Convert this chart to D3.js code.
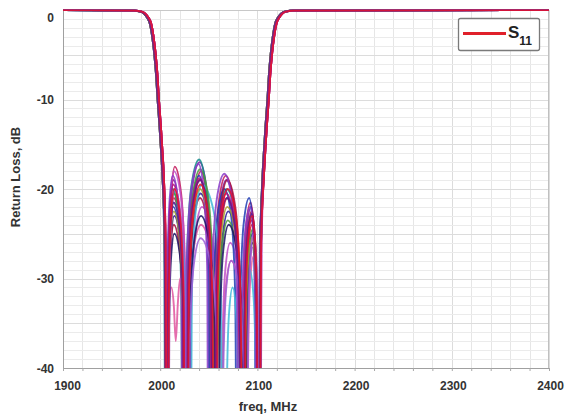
<!DOCTYPE html>
<html><head><meta charset="utf-8">
<script src="https://cdn.jsdelivr.net/npm/d3@7"></script>
<style>html,body{margin:0;padding:0;background:#fff;} svg{display:block;}</style>
</head><body><svg id="c" width="568" height="415"></svg>
<script>
// ---------- data ----------
const xTicks = [1900, 2000, 2100, 2200, 2300, 2400];
const yTicks = [0, -10, -20, -30, -40];
const xDomain = [1900, 2400];
const yDomain = [-40, 0];
const xLabel = "freq, MHz";
const yLabel = "Return Loss, dB";
const legendName = ["S", "11"];

// shared skirt shapes (three slight variants), [MHz, dB]
const leftSkirts = [
  [[1900,0],[1971,-0.05],[1978.3,-0.15],[1983.3,-0.4],[1986.8,-0.9],[1989.3,-1.5],[1991.8,-3],[1993.8,-4.8],[1995.8,-7.3],[1997.3,-10],[1999.3,-13],[2000.8,-15.6],[2002.3,-18.5]],
  [[1900,0],[1972,-0.05],[1979,-0.15],[1984,-0.4],[1987.5,-0.9],[1990,-1.5],[1992.5,-3],[1994.5,-4.8],[1996.5,-7.3],[1998,-10],[2000,-13],[2001.5,-15.6],[2003,-18.5]],
  [[1900,0],[1972.7,-0.05],[1979.7,-0.15],[1984.7,-0.4],[1988.2,-0.9],[1990.7,-1.5],[1993.2,-3],[1995.2,-4.8],[1997.2,-7.3],[1998.7,-10],[2000.7,-13],[2002.2,-15.6],[2003.7,-18.5]]
];
const rightSkirts = [
  [[2105.3,-18.5],[2106.8,-15.6],[2108.3,-13],[2110.3,-10],[2111.8,-7.3],[2113.8,-4.8],[2115.8,-3],[2118.3,-1.5],[2120.8,-0.9],[2124.3,-0.4],[2129.3,-0.15],[2136.3,-0.05],[2400,0]],
  [[2106,-18.5],[2107.5,-15.6],[2109,-13],[2111,-10],[2112.5,-7.3],[2114.5,-4.8],[2116.5,-3],[2119,-1.5],[2121.5,-0.9],[2125,-0.4],[2130,-0.15],[2137,-0.05],[2400,0]],
  [[2106.7,-18.5],[2108.2,-15.6],[2109.7,-13],[2111.7,-10],[2113.2,-7.3],[2115.2,-4.8],[2117.2,-3],[2119.7,-1.5],[2122.2,-0.9],[2125.7,-0.4],[2130.7,-0.15],[2137.7,-0.05],[2400,0]]
];

const traceColors = ["#d7142e","#7b1fa2","#2a1b9a","#c2185b","#138a8a","#c04fc8","#1e3cb4","#a3123f","#e0559f",
                     "#3fb7d8","#4a9a3a","#8a3cc8","#1b1464","#a8a030","#b0107e","#9c5fd6","#5e1a8c","#e8102a"];
const traceSkirt = [2,1,0,1,0,2,1,2,0,1,0,2,1,0,2,1,0,2];

// passband points per trace, flat [MHz, dB, MHz, dB, ...]
const passbands = [
 [2005.6,-26,2007.5,-80,2008.8,-33,2010.75,-24,2014,-21,2020,-24,2023.6,-33,2026,-80,2029,-31,2033.5,-22,2041,-19,2049,-22,2053.8,-31,2057,-80,2059.4,-33,2063,-24,2069,-21,2077.5,-24,2082.6,-33,2086,-80,2087.7,-36,2090.25,-27,2094.5,-24,2097.75,-27,2099.7,-36,2101,-80,2103.85,-26],
 [2004.75,-26,2006.5,-80,2007.9,-31,2010,-22,2013.5,-19,2019.25,-22,2022.7,-31,2025,-80,2028.1,-29,2032.75,-20,2040.5,-17,2047.75,-20,2052.1,-29,2055,-80,2057.6,-31,2061.5,-22,2068,-19,2076,-22,2080.8,-31,2084,-80,2085.9,-34,2088.75,-25,2093.5,-22,2096.75,-25,2098.7,-34,2100,-80,2103,-26],
 [2004.65,-26,2007,-80,2008.5,-35,2010.75,-26,2014.5,-23,2020.75,-26,2024.5,-35,2027,-80,2029.9,-32.5,2034.25,-23.5,2041.5,-20.5,2049.75,-23.5,2054.7,-32.5,2058,-80,2060.4,-34.5,2064,-25.5,2070,-22.5,2078.5,-25.5,2083.6,-34.5,2087,-80,2088.6,-37,2091,-28,2095,-25,2098.25,-28,2100.2,-37,2101.5,-80,2103.4,-26],
 [2005.5,-26,2008,-80,2009.4,-29.5,2011.5,-20.5,2015,-17.5,2021.5,-20.5,2025.4,-29.5,2028,-80,2030.8,-30,2035,-21,2042,-18,2047.5,-21,2050.8,-30,2053,-80,2055.9,-30.5,2060.25,-21.5,2067.5,-18.5,2075.25,-21.5,2079.9,-30.5,2083,-80,2085,-33.5,2088,-24.5,2093,-21.5,2096.25,-24.5,2098.2,-33.5,2099.5,-80,2102.75,-26],
 [2004.15,-26,2006,-80,2007.4,-32,2009.5,-23,2013,-20,2018.5,-23,2021.8,-32,2024,-80,2027.2,-28.7,2032,-19.7,2040,-16.7,2047,-19.7,2051.2,-28.7,2054,-80,2056.9,-32,2061.25,-23,2068.5,-20,2076.75,-23,2081.7,-32,2085,-80,2086.8,-35,2089.5,-26,2094,-23,2097.25,-26,2099.2,-35,2100.5,-80,2102.9,-26],
 [2005.6,-26,2007.5,-80,2008.8,-30,2010.75,-21,2014,-18,2021.5,-21,2026,-30,2029,-80,2031.8,-34,2036,-25,2043,-22,2052.5,-25,2058.2,-34,2062,-80,2064,-38,2067,-29,2072,-26,2080,-29,2084.8,-38,2088,-80,2089.5,-38.5,2091.75,-29.5,2095.5,-26.5,2098.75,-29.5,2100.7,-38.5,2102,-80,2104.35,-26],
 [2004.75,-26,2006.5,-80,2007.9,-34,2010,-25,2013.5,-22,2019.5,-25,2023.1,-34,2025.5,-80,2028.4,-30.5,2032.75,-21.5,2040,-18.5,2046,-21.5,2049.6,-30.5,2052,-80,2054.8,-32,2059,-23,2066,-20,2073,-23,2077.2,-32,2080,-80,2082.3,-33,2085.75,-24,2091.5,-21,2095.25,-24,2097.5,-33,2099,-80,2102.5,-26],
 [2005.35,-26,2007,-80,2008.4,-36,2010.5,-27,2014,-24,2020.25,-27,2024,-36,2026.5,-80,2029.4,-33,2033.75,-24,2041,-21,2048.5,-24,2053,-33,2056,-80,2058.6,-31,2062.5,-22,2069,-19,2077.25,-22,2082.2,-31,2085.5,-80,2087.2,-34.5,2089.75,-25.5,2094,-22.5,2097.5,-25.5,2099.6,-34.5,2101,-80,2103.85,-26],
 [2004.4,-26,2006.5,-80,2008,-36,2009.5,-32,2011.5,-31,2014,-33,2016,-37,2018.3,-32.5,2020.5,-30,2023,-33,2024.6,-38,2026,-80,2029.2,-36,2034,-27,2042,-24,2052,-27,2058,-36,2062,-80,2064.2,-40,2067.5,-31,2073,-28,2081,-31,2085.8,-40,2089,-80,2090.4,-39.5,2092.5,-30.5,2096,-27.5,2099.25,-30.5,2101.2,-39.5,2102.5,-80,2103.9,-26],
 [2004.5,-26,2006,-80,2007.4,-33.5,2009.5,-24.5,2013,-21.5,2021.5,-24.5,2026.6,-33.5,2030,-80,2032.6,-31.5,2036.5,-22.5,2043,-19.5,2055,-22.5,2062.2,-31.5,2067,-80,2068.5,-43,2070.75,-34,2074.5,-31,2078.25,-34,2080.5,-43,2082,-80,2084,-41,2087,-32,2092,-29,2096,-32,2098.4,-41,2100,-80,2103,-26],
 [2004.65,-26,2007,-80,2008.4,-32.5,2010.5,-23.5,2014,-20.5,2020,-23.5,2023.6,-32.5,2026,-80,2029,-29.8,2033.5,-20.8,2041,-17.8,2049.25,-20.8,2054.2,-29.8,2057.5,-80,2059.9,-35.5,2063.5,-26.5,2069.5,-23.5,2078.25,-26.5,2083.5,-35.5,2087,-80,2088.6,-36.5,2091,-27.5,2095,-24.5,2098.25,-27.5,2100.2,-36.5,2101.5,-80,2103.4,-26],
 [2004.85,-26,2006,-80,2007.4,-30.5,2009.5,-21.5,2013,-18.5,2018.5,-21.5,2021.8,-30.5,2024,-80,2027.1,-29.2,2031.75,-20.2,2039.5,-17.2,2044.75,-20.2,2048.4,-29.2,2050,-80,2053.2,-30.3,2058,-21.3,2066,-18.3,2074,-21.3,2078.8,-30.3,2082,-80,2084.1,-34,2087.25,-25,2092.5,-22,2096,-25,2098.1,-34,2099.5,-80,2103.1,-26],
 [2005.25,-26,2007.5,-80,2008.9,-37,2011,-28,2014.5,-25,2021,-28,2024.9,-37,2027.5,-80,2030.4,-35,2034.75,-26,2042,-23,2050.5,-26,2055.6,-35,2059,-80,2061.3,-36,2064.75,-27,2070.5,-24,2079,-27,2084.1,-36,2087.5,-80,2089,-38,2091.25,-29,2095,-26,2098.25,-29,2100.2,-38,2101.5,-80,2103.75,-26],
 [2004.65,-26,2007,-80,2008.4,-34.5,2010.5,-25.5,2014,-22.5,2020,-25.5,2023.6,-34.5,2026,-80,2029,-32,2033.5,-23,2041,-20,2048.75,-23,2053.4,-32,2056.5,-80,2059,-34,2062.75,-25,2069,-22,2077.5,-25,2082.6,-34,2086,-80,2087.7,-37.5,2090.25,-28.5,2094.5,-25.5,2097.75,-28.5,2099.7,-37.5,2101,-80,2103.15,-26],
 [2005.1,-26,2006.5,-80,2007.9,-31.5,2010,-22.5,2013.5,-19.5,2019.5,-22.5,2023.1,-31.5,2025.5,-80,2028.5,-30.8,2033,-21.8,2040.5,-18.8,2047.5,-21.8,2051.7,-30.8,2054.5,-80,2057.2,-32.5,2061.25,-23.5,2068,-20.5,2076.25,-23.5,2081.2,-32.5,2084.5,-80,2086.4,-35.5,2089.25,-26.5,2094,-23.5,2097.25,-26.5,2099.2,-35.5,2100.5,-80,2103.6,-26],
 [2005.5,-26,2008,-80,2009.4,-32,2011.5,-23,2015,-20,2021.25,-23,2025,-32,2027.5,-80,2030.3,-37.5,2034.5,-28.5,2041.5,-25.5,2052.25,-28.5,2058.7,-37.5,2063,-80,2065,-40,2068,-31,2073,-28,2081,-31,2085.8,-40,2089,-80,2090.4,-37,2092.5,-28,2096,-25,2099,-28,2100.8,-37,2102,-80,2104,-26],
 [2004.65,-26,2007,-80,2008.4,-33.5,2010.5,-24.5,2014,-21.5,2020,-24.5,2023.6,-33.5,2026,-80,2029,-31,2033.5,-22,2041,-19,2048.25,-22,2052.6,-31,2055.5,-80,2058.1,-33,2062,-24,2068.5,-21,2076.75,-24,2081.7,-33,2085,-80,2086.8,-34.8,2089.5,-25.8,2094,-22.8,2097.4,-25.8,2099.4,-34.8,2100.8,-80,2103.05,-26],
 [2005.6,-26,2007.5,-80,2008.9,-32,2011,-23,2014.5,-20,2020.5,-23,2024.1,-32,2026.5,-80,2029.5,-31.5,2034,-22.5,2041.5,-19.5,2049,-22.5,2053.5,-31.5,2056.5,-80,2059.1,-32,2063,-23,2069.5,-20,2077.75,-23,2082.7,-32,2086,-80,2087.7,-35,2090.25,-26,2094.5,-23,2097.75,-26,2099.7,-35,2101,-80,2103.85,-26]
];

// ---------- layout ----------
const W = 568, H = 415;
const m = {left: 63, right: 549, top: 10, bottom: 368};
const svg = d3.select("#c");
svg.append("rect").attr("width", W).attr("height", H).attr("fill", "#fff");

const x = d3.scaleLinear().domain(xDomain).range([m.left, m.right]);
const y = d3.scaleLinear().domain(yDomain).range([m.bottom, m.top]);

const font = "'Liberation Sans', Arial, sans-serif";

// grid
const g = svg.append("g");
const xGrid = d3.range(xDomain[0], xDomain[1] + 1, 20);
const yGrid = d3.range(yDomain[0], yDomain[1] + 1, 1);
g.selectAll(".vg").data(xGrid).enter().append("line")
  .attr("x1", d => Math.round(x(d)) + 0.5).attr("x2", d => Math.round(x(d)) + 0.5)
  .attr("y1", m.top).attr("y2", m.bottom)
  .attr("stroke", d => (d % 100 === 0) ? "#dcdcdc" : "#e6e6e6").attr("stroke-width", 1);
g.selectAll(".hg").data(yGrid).enter().append("line")
  .attr("x1", m.left).attr("x2", m.right)
  .attr("y1", d => Math.round(y(d)) + 0.5).attr("y2", d => Math.round(y(d)) + 0.5)
  .attr("stroke", d => (d % 5 === 0) ? "#dcdcdc" : "#ebebeb").attr("stroke-width", 1);

// frame
svg.append("line").attr("x1", m.left).attr("x2", m.right).attr("y1", m.top + 0.5).attr("y2", m.top + 0.5).attr("stroke", "#c8c8c8");
svg.append("line").attr("x1", m.right - 0.5).attr("x2", m.right - 0.5).attr("y1", m.top).attr("y2", m.bottom).attr("stroke", "#c0c0c0");

// axes
const xAxis = d3.axisBottom(x).tickValues(xGrid).tickSize(3).tickFormat(d => xTicks.includes(d) ? String(d) : "");
const xa = svg.append("g").attr("transform", `translate(0,${m.bottom})`).call(xAxis);
xa.select(".domain").attr("stroke", "#a0a0a0");
xa.selectAll(".tick line").attr("stroke", "#a8a8a8");
xa.selectAll(".tick text").attr("font-family", font).attr("font-weight", "bold").attr("font-size", 12)
  .attr("fill", "#333").attr("dy", "1.3em")
  .attr("dx", d => d === xDomain[0] ? 4 : 1);

const yAxis = d3.axisLeft(y).tickValues(yTicks).tickSize(0).tickPadding(9).tickFormat(d => String(d));
const ya = svg.append("g").attr("transform", `translate(${m.left},0)`).call(yAxis);
ya.select(".domain").attr("stroke", "#a0a0a0");
ya.selectAll(".tick text").attr("font-family", font).attr("font-weight", "bold").attr("font-size", 12)
  .attr("fill", "#333").attr("dy", d => d === yDomain[1] ? "0.95em" : "0.35em");

// axis titles
svg.append("text").attr("x", 268).attr("y", 411).attr("text-anchor", "middle")
  .attr("font-family", font).attr("font-weight", "bold").attr("font-size", 13).attr("fill", "#333").text(xLabel);
svg.append("text").attr("transform", "translate(20,177) rotate(-90)").attr("text-anchor", "middle")
  .attr("font-family", font).attr("font-weight", "bold").attr("font-size", 13).attr("fill", "#333").text(yLabel);

// traces
svg.append("clipPath").attr("id", "clip").append("rect")
  .attr("x", m.left).attr("y", m.top - 0.5).attr("width", m.right - m.left).attr("height", m.bottom - m.top + 0.5);
const line = d3.line().x(d => x(d[0])).y(d => y(d[1])).curve(d3.curveMonotoneX);
const traces = passbands.map((pb, i) => {
  const pts = [];
  for (let k = 0; k < pb.length; k += 2) pts.push([pb[k], pb[k + 1]]);
  return {color: traceColors[i], pts: leftSkirts[traceSkirt[i]].concat(pts, rightSkirts[traceSkirt[i]])};
});
svg.append("g").attr("clip-path", "url(#clip)").selectAll("path").data(traces).enter().append("path")
  .attr("d", d => line(d.pts)).attr("fill", "none").attr("stroke", d => d.color)
  .attr("stroke-width", 1.9).attr("stroke-opacity", 0.85).attr("stroke-linejoin", "round");

// legend
const lg = svg.append("g");
lg.append("rect").attr("x", 458.5).attr("y", 18.5).attr("width", 81).attr("height", 32).attr("rx", 2)
  .attr("fill", "#fff").attr("stroke", "#7a7a7a").attr("stroke-width", 1.3);
lg.append("line").attr("x1", 463).attr("x2", 506).attr("y1", 33.5).attr("y2", 33.5)
  .attr("stroke", "#e0202a").attr("stroke-width", 3);
const lt = lg.append("text").attr("x", 508).attr("y", 38).attr("font-family", font).attr("font-weight", "bold").attr("fill", "#222");
lt.append("tspan").attr("font-size", 17).text(legendName[0]);
lt.append("tspan").attr("font-size", 12).attr("dy", 7).text(legendName[1]);
</script>
</body></html>
